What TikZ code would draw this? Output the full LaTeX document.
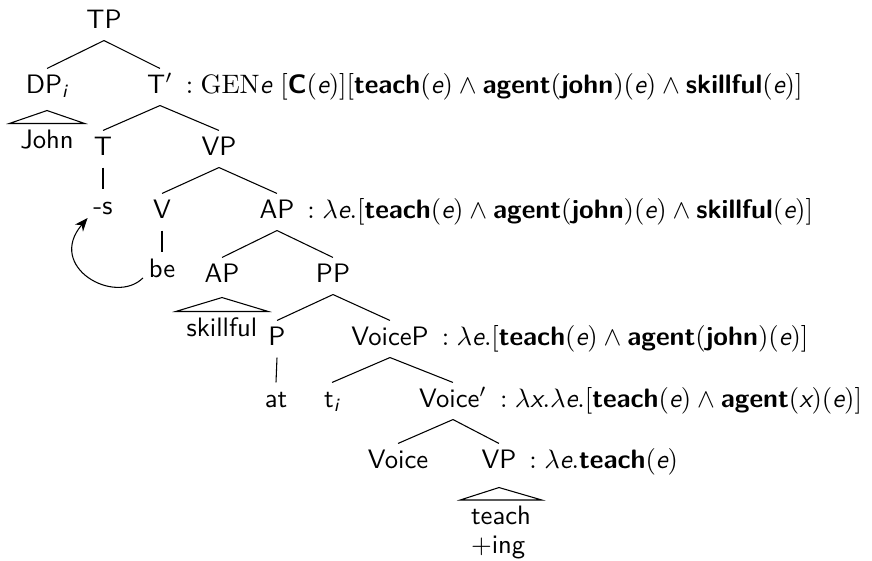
\documentclass[tikz,border=0pt]{standalone}
\usepackage{amsmath}
\usetikzlibrary{arrows.meta,calc}
\newcommand{\vE}{\textit{e}}
\newcommand{\vX}{\textit{x}}
\newcommand{\pred}[1]{\textbf{#1}}
\begin{document}
\begin{tikzpicture}[x=0.375pt,y=-0.375pt,
  cat/.style={inner sep=2pt,text height=7pt,text depth=2.5pt,anchor=base,font=\sffamily},
  sem/.style={inner sep=0pt,anchor=base west,font=\sffamily},
  leafroof/.style={inner sep=2pt,anchor=north,align=left,font=\sffamily\fontsize{10}{11}\selectfont},
  branch/.style={line width=0.4pt},
  movearrow/.style={line width=0.4pt,-{Stealth[length=5pt,width=4pt]}}]
\useasboundingbox (0,0) rectangle (872,561);
% nodes
\node[cat] (tp) at (104,28) {TP};
\node[cat] (dp) at (47,93) {DP$_{\textit{i}}$};
\node[cat] (tbar) at (160,93) {T$'$};
\node[sem] (tbarsem) at (tbar.base east) {\hspace{2.5pt}$: \mathrm{GEN}\vE\ [\pred{C}(\vE)][\pred{teach}(\vE) \wedge \pred{agent}(\pred{john})(\vE) \wedge \pred{skillful}(\vE)]$};
\node[cat] (john) at (47,148) {John};
\node[cat] (t) at (103,155) {T};
\node[cat] (vp) at (219,155) {VP};
\node[cat] (s) at (103,214) {-s};
\node[cat] (v) at (162,218) {V};
\node[cat] (ap) at (277,218) {AP};
\node[sem] (apsem) at (ap.base east) {\hspace{2.5pt}$: \lambda\vE.[\pred{teach}(\vE) \wedge \pred{agent}(\pred{john})(\vE) \wedge \pred{skillful}(\vE)]$};
\node[cat] (be) at (162,277) {be};
\node[cat] (apl) at (222,282) {AP};
\node[cat] (pp) at (333,282) {PP};
\node[cat] (skill) at (222,336) {skillful};
\node[cat] (p) at (277,345) {P};
\node[cat] (voicep) at (390,345) {VoiceP};
\node[sem] (voicepsem) at (voicep.base east) {\hspace{2.5pt}$: \lambda\vE.[\pred{teach}(\vE) \wedge \pred{agent}(\pred{john})(\vE)]$};
\node[cat] (at) at (276,407) {at};
\node[cat] (ti) at (332,407) {t$_{\textit{i}}$};
\node[cat] (voicebar) at (453,407) {Voice$'$};
\node[sem] (voicebarsem) at (voicebar.base east) {\hspace{2.5pt}$: \lambda\vX.\lambda\vE.[\pred{teach}(\vE) \wedge \pred{agent}(\vX)(\vE)]$};
\node[cat] (voice) at (398,468) {Voice};
\node[cat] (vpl) at (499,468) {VP};
\node[sem] (vplsem) at (vpl.base east) {\hspace{2.5pt}$: \lambda\vE.\pred{teach}(\vE)$};
\node[leafroof] (teach) at (501,500) {teach\\$+$ing};
% branches
\draw[branch] (tp.south) -- (dp.north);
\draw[branch] (tp.south) -- (tbar.north);
\draw[branch] ($(dp.south)+(0,5)$) -- ($(john.north west)+(-5,0)$) -- ($(john.north east)+(5,0)$) -- cycle;
\draw[branch] (tbar.south) -- (t.north);
\draw[branch] (tbar.south) -- (vp.north);
\draw[branch] (t.south) -- (s.north);
\draw[branch] (vp.south) -- (v.north);
\draw[branch] (vp.south) -- (ap.north);
\draw[branch] (v.south) -- (be.north);
\draw[branch] (ap.south) -- (apl.north);
\draw[branch] (ap.south) -- (pp.north);
\draw[branch] ($(apl.south)+(0,3)$) -- ($(skill.north west)+(-5,0)$) -- ($(skill.north east)+(5,0)$) -- cycle;
\draw[branch] (pp.south) -- (p.north);
\draw[branch] (pp.south) -- (voicep.north);
\draw[branch] (p.south) -- (at.north);
\draw[branch] (voicep.south) -- (ti.north);
\draw[branch] (voicep.south) -- (voicebar.north);
\draw[branch] (voicebar.south) -- (voice.north);
\draw[branch] (voicebar.south) -- (vpl.north);
\draw[branch] ($(vpl.south)+(0,7)$) -- ($(teach.north west)+(-5,0)$) -- ($(teach.north east)+(5,0)$) -- cycle;
% head movement arrow
\draw[movearrow] (be.200) .. controls +(-28,28) and +(-42,49) .. (s.213);
\end{tikzpicture}
\end{document}
